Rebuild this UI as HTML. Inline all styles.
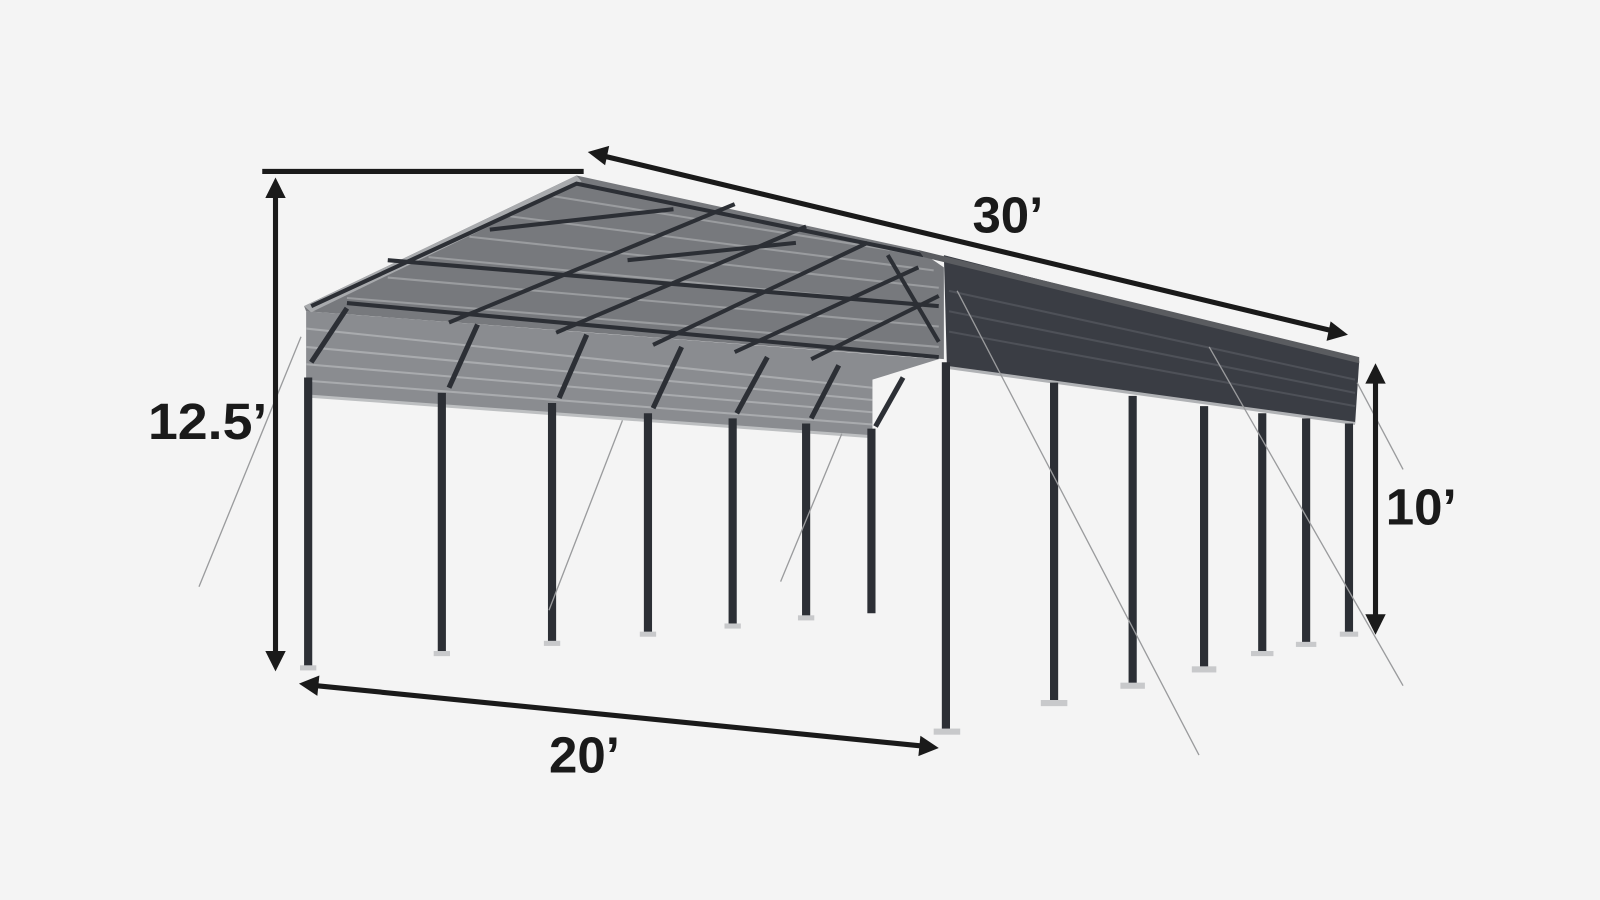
<!DOCTYPE html>
<html><head><style>
html,body{margin:0;padding:0;background:#f4f4f4;}
svg{display:block}
text{font-family:"Liberation Sans",sans-serif;font-weight:bold;fill:#1a1a1a;font-size:50px;}
</style></head><body>
<svg width="1600" height="900" viewBox="0 0 1568 882" preserveAspectRatio="none">
<rect width="1568" height="882" fill="#f4f4f4"/>
<polygon points="300,305 920,352 855,372 855,428 300,388" fill="#8a8c90"/>
<g stroke="#a9abae" stroke-width="2">
<line x1="300" y1="322" x2="855" y2="380"/><line x1="300" y1="340" x2="855" y2="392"/>
<line x1="300" y1="357" x2="855" y2="404"/><line x1="300" y1="373" x2="855" y2="416"/>
</g>
<line x1="300" y1="388" x2="855" y2="428" stroke="#bdbfc1" stroke-width="3"/>
<polygon points="298,300 565,172 900,245 925,262 925,352 300,305" fill="#77797d"/>
<g stroke="#9a9c9f" stroke-width="2">
<line x1="340" y1="292" x2="920" y2="340"/><line x1="380" y1="272" x2="920" y2="320"/>
<line x1="420" y1="252" x2="920" y2="300"/><line x1="460" y1="232" x2="920" y2="282"/>
<line x1="500" y1="212" x2="915" y2="265"/><line x1="540" y1="192" x2="905" y2="250"/>
</g>
<polygon points="298,300 565,172 570,178 305,306" fill="#a8aaad"/>
<g stroke="#2c2f35" stroke-width="4" fill="none">
<polyline points="305,300 565,180 905,250"/>
<line x1="340" y1="297" x2="920" y2="350"/>
<line x1="440" y1="316" x2="720" y2="200"/>
<line x1="545" y1="326" x2="790" y2="222"/>
<line x1="640" y1="338" x2="850" y2="238"/>
<line x1="720" y1="345" x2="900" y2="262"/>
<line x1="795" y1="352" x2="920" y2="290"/>
<line x1="480" y1="225" x2="660" y2="205"/>
<line x1="615" y1="255" x2="780" y2="238"/>
<line x1="870" y1="250" x2="920" y2="335"/>
<line x1="380" y1="255" x2="920" y2="300"/>
</g>
<g stroke="#2c2f35" stroke-width="5">
<line x1="305" y1="355" x2="340" y2="302"/><line x1="440" y1="380" x2="468" y2="318"/>
<line x1="548" y1="390" x2="575" y2="328"/><line x1="640" y1="400" x2="668" y2="340"/>
<line x1="722" y1="405" x2="752" y2="350"/><line x1="795" y1="410" x2="822" y2="358"/>
<line x1="858" y1="418" x2="885" y2="370"/>
</g>
<polygon points="925,250 1332,354 1328,415 928,360" fill="#3a3d44"/>
<polygon points="900,245 1332,350 1332,356 905,252" fill="#5a5c60"/>
<g stroke="#4e5158" stroke-width="2">
<line x1="930" y1="285" x2="1328" y2="372"/><line x1="930" y1="305" x2="1328" y2="385"/>
<line x1="930" y1="325" x2="1328" y2="398"/>
</g>
<line x1="928" y1="360" x2="1328" y2="415" stroke="#b0b2b5" stroke-width="3"/>
<g stroke="#2c2f35" stroke-width="8">
<line x1="302" y1="370" x2="302" y2="655"/><line x1="433" y1="385" x2="433" y2="641"/>
<line x1="541" y1="395" x2="541" y2="631"/><line x1="635" y1="405" x2="635" y2="622"/>
<line x1="718" y1="410" x2="718" y2="614"/><line x1="790" y1="415" x2="790" y2="606"/>
<line x1="854" y1="420" x2="854" y2="601"/>
<line x1="927" y1="355" x2="927" y2="718"/><line x1="1033" y1="375" x2="1033" y2="690"/>
<line x1="1110" y1="388" x2="1110" y2="673"/><line x1="1180" y1="398" x2="1180" y2="657"/>
<line x1="1237" y1="405" x2="1237" y2="642"/><line x1="1280" y1="410" x2="1280" y2="632"/>
<line x1="1322" y1="415" x2="1322" y2="622"/>
</g>
<g fill="#c8c9cb">
<rect x="294" y="652" width="16" height="5"/><rect x="425" y="638" width="16" height="5"/>
<rect x="533" y="628" width="16" height="5"/><rect x="627" y="619" width="16" height="5"/>
<rect x="710" y="611" width="16" height="5"/><rect x="782" y="603" width="16" height="5"/>
<rect x="915" y="714" width="26" height="6"/><rect x="1020" y="686" width="26" height="6"/>
<rect x="1098" y="669" width="24" height="6"/><rect x="1168" y="653" width="24" height="6"/>
<rect x="1226" y="638" width="22" height="5"/><rect x="1270" y="629" width="20" height="5"/>
<rect x="1313" y="619" width="18" height="5"/>
</g>
<g stroke="#9a9b9d" stroke-width="1.3">
<line x1="295" y1="330" x2="195" y2="575"/><line x1="610" y1="412" x2="538" y2="598"/>
<line x1="825" y1="425" x2="765" y2="570"/><line x1="938" y1="285" x2="1175" y2="740"/>
<line x1="1185" y1="340" x2="1375" y2="672"/><line x1="1330" y1="375" x2="1375" y2="460"/>
</g>
<g stroke="#1a1a1a" stroke-width="5" fill="none">
<line x1="257" y1="168" x2="572" y2="168"/>
<line x1="270" y1="190" x2="270" y2="640"/>
<line x1="592" y1="153" x2="1305" y2="324"/>
<line x1="1348" y1="372" x2="1348" y2="605"/>
<line x1="310" y1="672" x2="903" y2="731"/>
</g>
<g fill="#1a1a1a">
<polygon points="270,174 260,194 280,194"/><polygon points="270,658 260,638 280,638"/>
<polygon points="576,149 597,143 593,162"/><polygon points="1321,328 1300,334 1304,315"/>
<polygon points="1348,356 1338,376 1358,376"/><polygon points="1348,622 1338,602 1358,602"/>
<polygon points="293,670 313,662 311,682"/><polygon points="920,733 900,741 902,721"/>
</g>
<text x="145" y="430" textLength="117" lengthAdjust="spacingAndGlyphs">12.5’</text>
<text x="953" y="228">30’</text>
<text x="1358" y="514">10’</text>
<text x="538" y="757">20’</text>
</svg>
</body></html>
